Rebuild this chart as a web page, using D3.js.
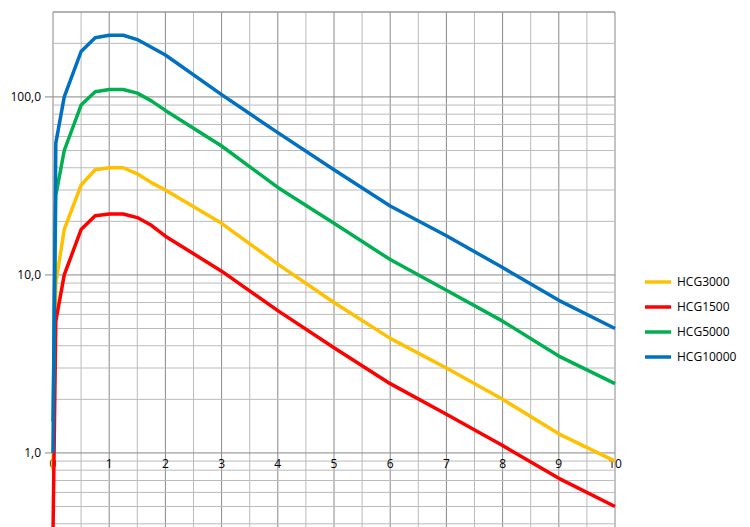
<!DOCTYPE html><html><head><meta charset="utf-8">
<script src="https://d3js.org/d3.v7.min.js"></script>
<style>body{margin:0;background:#fff}svg{font-family:"Open Sans",Arial,sans-serif}</style></head><body>
<script>
const times=[0,0.05,0.2,0.5,0.75,1,1.25,1.5,1.75,2,3,4,5,6,7,8,9,10];
const names=["HCG3000","HCG1500","HCG5000","HCG10000"];
const colors=["#ffc000","#ff0000","#00b050","#0070c0"];
const hcg3000=[0.8,9,18,32,39,40,40,37,33,30,19.5,11.5,7,4.4,3.0,2.0,1.28,0.9];
const hcg1500=[0.35,5.5,10,18,21.5,22,22,21,19,16.5,10.5,6.3,3.9,2.45,1.65,1.1,0.72,0.5];
const hcg5000=[1.5,28,50,90,107,110,110,105,95,84,53,31,19.5,12.2,8.2,5.5,3.5,2.45];
const hcg10000=[1,55,100,180,215,222,222,210,190,172,103,63,39,24.4,16.6,11,7.2,5.0];
const series=[hcg3000,hcg1500,hcg5000,hcg10000];
const yTicks=[1,10,100];
const W=750,H=527;
const svg=d3.select("body").append("svg").attr("width",W).attr("height",H);
const x=d3.scaleLinear().domain([0,10]).range([53,615]);
const y=d3.scaleLog().domain([0.3,300]).range([546,12]);
const g=svg.append("g");
// vertical grid
d3.range(0,10.01,0.5).forEach(v=>{g.append("line").attr("x1",x(v)).attr("x2",x(v)).attr("y1",12).attr("y2",H)
 .attr("stroke",Number.isInteger(v)?"#888":"#bbb").attr("stroke-width",1);});
// horizontal grid
const minor=[];[0.1,1,10,100].forEach(d=>{for(let k=1;k<10;k++){const v=d*k;if(v>=0.3&&v<=300)minor.push(v);}});
minor.forEach(v=>{const maj=yTicks.includes(v);g.append("line").attr("x1",maj?45:53).attr("x2",615).attr("y1",y(v)).attr("y2",y(v))
 .attr("stroke",maj?"#888":"#bbb");});
g.append("line").attr("x1",53).attr("x2",615).attr("y1",12).attr("y2",12).attr("stroke","#888");
yTicks.forEach(v=>svg.append("text").attr("x",41).attr("y",y(v)+4).attr("text-anchor","end").attr("font-size",12).text(d3.format(".1f")(v).replace(".",",")));
d3.range(0,11).forEach(v=>svg.append("text").attr("x",x(v)).attr("y",y(1)+15).attr("text-anchor","middle").attr("font-size",12).text(v));
const line=d3.line().x((d,i)=>x(times[i])).y(d=>y(d));
series.forEach((s,i)=>svg.append("path").attr("d",line(s)).attr("fill","none").attr("stroke",colors[i]).attr("stroke-width",3.5).attr("stroke-linejoin","round"));
names.forEach((n,i)=>{const yy=282+i*25;
 svg.append("line").attr("x1",645).attr("x2",671).attr("y1",yy).attr("y2",yy).attr("stroke",colors[i]).attr("stroke-width",3.5);
 svg.append("text").attr("x",677).attr("y",yy+4).attr("font-size",12).text(n);});
</script></body></html>
